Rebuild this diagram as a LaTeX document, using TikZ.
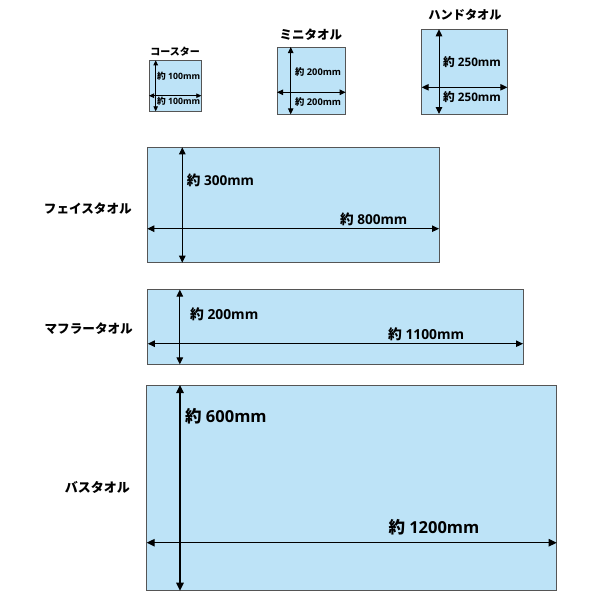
\documentclass[tikz,border=0pt]{standalone}
\usepackage{fontspec}
\newfontfamily\jpf{Noto Sans CJK JP}
\newfontfamily\latf{Open Sans}
\usetikzlibrary{arrows.meta}
\definecolor{towelfill}{RGB}{189,227,247}
\definecolor{towelline}{RGB}{85,85,85}
\newcommand\yaku[2]{{\fontsize{#1}{#1}\selectfont\bfseries\jpf 約\latf\ #2mm}}
\tikzset{
  towel/.style={draw=towelline, fill=towelfill, line width=0.9pt, inner sep=0pt, outer sep=0pt},
  dimarrow/.style={draw=black, line width=#1},
  kana/.style={inner sep=0pt, font=\jpf\bfseries\fontsize{#1}{#1}\selectfont},
  dimlabel/.style={inner sep=0pt, anchor=west},
}
\begin{document}
\begin{tikzpicture}[x=1pt,y=-1pt]
\useasboundingbox (0,0) rectangle (600,600);
% boxes
\node[towel, minimum width=52.3pt, minimum height=51pt] (coaster) at (175.15,85.8) {};
\node[towel, minimum width=68.7pt, minimum height=67.3pt] (mini) at (311.35,80.65) {};
\node[towel, minimum width=85.6pt, minimum height=84.7pt] (hand) at (464.5,71.65) {};
\node[towel, minimum width=291.7pt, minimum height=115.4pt] (face) at (293.15,205) {};
\node[towel, minimum width=375.2pt, minimum height=74.8pt] (muffler) at (335.4,327) {};
\node[towel, minimum width=410pt, minimum height=205.7pt] (bath) at (351.7,487.85) {};
% arrow crossing points
\coordinate (cx) at (155.7,95.7);
\coordinate (mx) at (290.7,92.3);
\coordinate (hx) at (439,87.3);
\coordinate (fx) at (182.3,228.7);
\coordinate (ux) at (179.8,343.7);
\coordinate (bx) at (180,542.7);
% arrows
\draw[dimarrow=0.8pt, {Triangle[length=5pt,width=4.5pt]}-{Triangle[length=5pt,width=4.5pt]}] (coaster.north -| cx) -- (coaster.south -| cx);
\draw[dimarrow=0.8pt, {Triangle[length=5pt,width=4.5pt]}-{Triangle[length=5pt,width=4.5pt]}] (coaster.west |- cx) -- (coaster.east |- cx);
\draw[dimarrow=0.9pt, {Triangle[length=6pt,width=5.5pt]}-{Triangle[length=6pt,width=5.5pt]}] (mini.north -| mx) -- (mini.south -| mx);
\draw[dimarrow=0.9pt, {Triangle[length=6pt,width=5.5pt]}-{Triangle[length=6pt,width=5.5pt]}] (mini.west |- mx) -- (mini.east |- mx);
\draw[dimarrow=1pt, {Triangle[length=7pt,width=6.5pt]}-{Triangle[length=7pt,width=6.5pt]}] (hand.north -| hx) -- (hand.south -| hx);
\draw[dimarrow=1pt, {Triangle[length=7pt,width=6.5pt]}-{Triangle[length=7pt,width=6.5pt]}] (hand.west |- hx) -- (hand.east |- hx);
\draw[dimarrow=1pt, {Triangle[length=7pt,width=6.5pt]}-{Triangle[length=7pt,width=6.5pt]}] (face.north -| fx) -- (face.south -| fx);
\draw[dimarrow=1pt, {Triangle[length=7pt,width=6.5pt]}-{Triangle[length=7pt,width=6.5pt]}] (face.west |- fx) -- (face.east |- fx);
\draw[dimarrow=1pt, {Triangle[length=7pt,width=6.5pt]}-{Triangle[length=7pt,width=6.5pt]}] (muffler.north -| ux) -- (muffler.south -| ux);
\draw[dimarrow=1pt, {Triangle[length=7pt,width=6.5pt]}-{Triangle[length=7pt,width=6.5pt]}] (muffler.west |- ux) -- (muffler.east |- ux);
\draw[dimarrow=1.2pt, {Triangle[length=8pt,width=7.5pt]}-{Triangle[length=8pt,width=7.5pt]}] (bath.north -| bx) -- (bath.south -| bx);
\draw[dimarrow=1.2pt, {Triangle[length=8pt,width=7.5pt]}-{Triangle[length=8pt,width=7.5pt]}] (bath.west |- bx) -- (bath.east |- bx);
% dimension labels
\node[dimlabel] (c1) at (157,76) {\yaku{8.7}{100}};
\node[dimlabel] (c2) at (157,100.7) {\yaku{8.7}{100}};
\node[dimlabel] (m1) at (295,71.7) {\yaku{9.3}{200}};
\node[dimlabel] (m2) at (295,101.7) {\yaku{9.3}{200}};
\node[dimlabel] (h1) at (443,61.7) {\yaku{11.7}{250}};
\node[dimlabel] (h2) at (443,97.3) {\yaku{11.7}{250}};
\node[dimlabel] (f1) at (186.7,180.7) {\yaku{13.6}{300}};
\node[dimlabel] (f2) at (340,219.3) {\yaku{13.6}{800}};
\node[dimlabel] (u1) at (190,314.4) {\yaku{13.8}{200}};
\node[dimlabel] (u2) at (388,334) {\yaku{13.8}{1100}};
\node[dimlabel] (b1) at (185,416.7) {\yaku{16.5}{600}};
\node[dimlabel] (b2) at (388.3,527.7) {\yaku{16.5}{1200}};
% titles
\node[kana=10] (tc) at (175,52) {コースター};
\node[kana=12.5] (tm) at (310.8,34.3) {ミニタオル};
\node[kana=12.2] (th) at (465,15) {ハンドタオル};
\node[kana=12.6, anchor=east] (tf) at (132,208.3) {フェイスタオル};
\node[kana=12.6, anchor=east] (tu) at (133,329) {マフラータオル};
\node[kana=13, anchor=east] (tb) at (130,487.3) {バスタオル};
\end{tikzpicture}
\end{document}
